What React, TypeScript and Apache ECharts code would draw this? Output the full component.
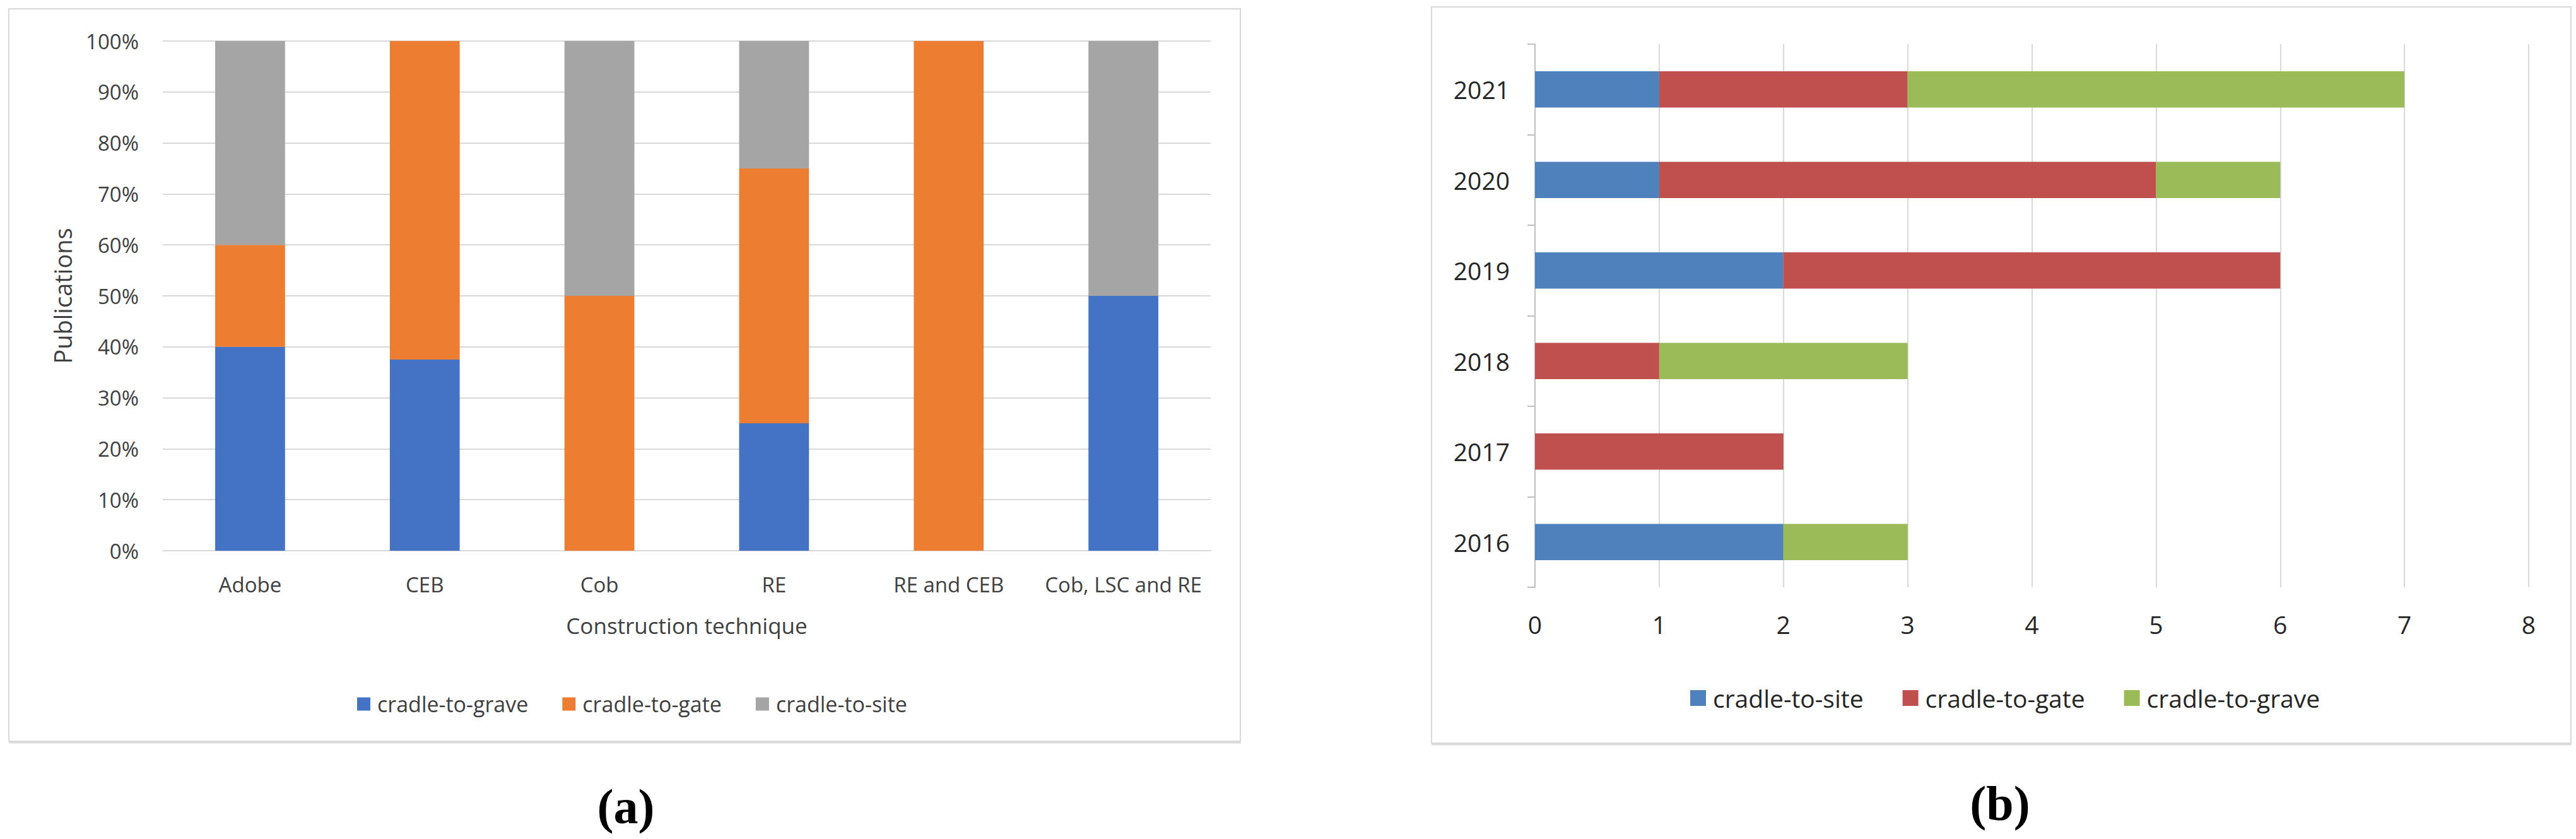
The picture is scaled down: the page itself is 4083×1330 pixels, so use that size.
import React, { useEffect, useRef } from 'react';
import * as echarts from 'echarts';

// Panel (a): share of publications by construction technique (%)
const techniques = ['Adobe', 'CEB', 'Cob', 'RE', 'RE and CEB', 'Cob, LSC and RE'];
const aGrave = [40, 37.5, 0, 25, 0, 50];
const aGate = [20, 62.5, 50, 50, 100, 0];
const aSite = [40, 0, 50, 25, 0, 50];
const legendA = ['cradle-to-grave', 'cradle-to-gate', 'cradle-to-site'];
const colorsA = ['#4472C4', '#ED7D31', '#A5A5A5'];

// Panel (b): number of publications per year
const years = ['2016', '2017', '2018', '2019', '2020', '2021'];
const bSite = [2, 0, 0, 2, 1, 1];
const bGate = [0, 2, 1, 4, 4, 2];
const bGrave = [1, 0, 2, 0, 1, 4];
const legendB = ['cradle-to-site', 'cradle-to-gate', 'cradle-to-grave'];
const colorsB = ['#4F81BD', '#C0504D', '#9BBB59'];

const SUFFIX_B = ' (b)';
const FONT = 'Open Sans';
const GRID = '#D9D9D9';

export default function App() {
  const ref = useRef<HTMLDivElement>(null);

  useEffect(() => {
    if (!ref.current) return;
    const chart = echarts.init(ref.current, null, { renderer: 'svg' });
    const dataA = [aGrave, aGate, aSite];
    const dataB = [bSite, bGate, bGrave];

    const option: any = {
      animation: false,
      backgroundColor: '#ffffff',
      grid: [
        { left: 258, top: 65, width: 1661, height: 808 },
        { left: 2433, top: 70, width: 1575, height: 861 },
      ],
      xAxis: [
        {
          gridIndex: 0,
          type: 'category',
          data: techniques,
          axisLine: { lineStyle: { color: GRID, width: 2 } },
          axisTick: { show: false },
          axisLabel: { interval: 0, margin: 37, fontSize: 33, fontFamily: FONT, color: '#404040' },
          name: 'Construction technique',
          nameLocation: 'middle',
          nameGap: 101,
          nameTextStyle: { fontSize: 35, fontFamily: FONT, color: '#404040' },
        },
        {
          gridIndex: 1,
          type: 'value',
          min: 0,
          max: 8,
          interval: 1,
          axisLine: { show: false },
          axisTick: { show: false },
          splitLine: { lineStyle: { color: GRID, width: 2 } },
          axisLabel: { margin: 39, fontSize: 39, fontFamily: FONT, color: '#262626' },
        },
      ],
      yAxis: [
        {
          gridIndex: 0,
          type: 'value',
          min: 0,
          max: 100,
          interval: 10,
          axisLine: { show: false },
          axisTick: { show: false },
          splitLine: { lineStyle: { color: GRID, width: 2 } },
          axisLabel: {
            formatter: '{value}%',
            margin: 38,
            fontSize: 33,
            fontFamily: FONT,
            color: '#404040',
          },
          name: 'Publications',
          nameLocation: 'middle',
          nameGap: 140,
          nameTextStyle: { fontSize: 38, fontFamily: FONT, color: '#404040' },
        },
        {
          gridIndex: 1,
          type: 'category',
          data: years,
          axisLine: { show: true, lineStyle: { color: '#BFBFBF', width: 2 } },
          axisTick: { show: true, length: 12, lineStyle: { color: '#BFBFBF', width: 2 } },
          axisLabel: { interval: 0, margin: 40, fontSize: 39, fontFamily: FONT, color: '#262626' },
        },
      ],
      legend: [
        {
          data: legendA,
          left: 561,
          top: 1094,
          icon: 'rect',
          itemWidth: 21,
          itemHeight: 21,
          itemGap: 54,
          textStyle: { fontSize: 34, fontFamily: FONT, color: '#404040', padding: [0, 0, 0, 6] },
        },
        {
          data: legendB.map((n) => n + SUFFIX_B),
          formatter: (n: string) => n.replace(SUFFIX_B, ''),
          left: 2674,
          top: 1082,
          icon: 'rect',
          itemWidth: 25,
          itemHeight: 25,
          itemGap: 62,
          textStyle: { fontSize: 39, fontFamily: FONT, color: '#262626', padding: [0, 0, 0, 6] },
        },
      ],
      graphic: [
        {
          type: 'rect',
          shape: { x: 14, y: 14, width: 1952, height: 1161 },
          style: { fill: 'none', stroke: GRID, lineWidth: 2 },
          silent: true,
        },
        {
          type: 'line',
          shape: { x1: 14, y1: 1177, x2: 1967, y2: 1177 },
          style: { stroke: '#DCDCDC', lineWidth: 3 },
          silent: true,
        },
        {
          type: 'rect',
          shape: { x: 2269, y: 11, width: 1806, height: 1167 },
          style: { fill: 'none', stroke: GRID, lineWidth: 2 },
          silent: true,
        },
        {
          type: 'line',
          shape: { x1: 2269, y1: 1180, x2: 4076, y2: 1180 },
          style: { stroke: '#DCDCDC', lineWidth: 3 },
          silent: true,
        },
        {
          type: 'text',
          x: 992,
          y: 1278,
          style: {
            text: '(a)',
            font: 'bold 78px "Liberation Serif"',
            fill: '#000',
            align: 'center',
            verticalAlign: 'middle',
          },
        },
        {
          type: 'text',
          x: 3170,
          y: 1273,
          style: {
            text: '(b)',
            font: 'bold 78px "Liberation Serif"',
            fill: '#000',
            align: 'center',
            verticalAlign: 'middle',
          },
        },
      ],
      series: [
        ...legendA.map((name, i) => ({
          name,
          type: 'bar',
          stack: 'a',
          xAxisIndex: 0,
          yAxisIndex: 0,
          barWidth: '40%',
          itemStyle: { color: colorsA[i] },
          data: dataA[i],
        })),
        ...legendB.map((name, i) => ({
          name: name + SUFFIX_B,
          type: 'bar',
          stack: 'b',
          xAxisIndex: 1,
          yAxisIndex: 1,
          barWidth: '40%',
          itemStyle: { color: colorsB[i] },
          data: dataB[i],
        })),
      ],
    };

    chart.setOption(option);
    return () => chart.dispose();
  }, []);

  return (
    <div
      ref={ref}
      style={{ position: 'fixed', left: 0, top: 0, width: 4083, height: 1330, background: '#fff' }}
    />
  );
}
